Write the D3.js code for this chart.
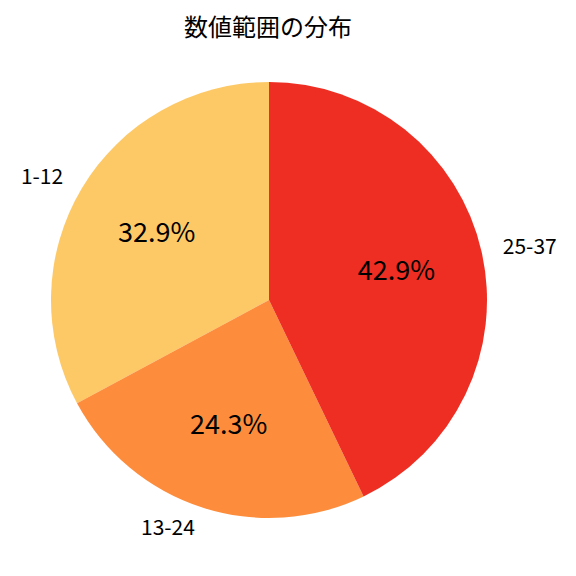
<!DOCTYPE html>
<html>
<head>
<meta charset="utf-8">
<script src="https://cdn.jsdelivr.net/npm/d3@7"></script>
<style>
  body { margin: 0; background: #fff; }
  text { font-family: "Noto Sans CJK JP", "Noto Sans", sans-serif; }
</style>
</head>
<body>
<svg id="chart" width="576" height="576"></svg>
<script>
var categories = ["1-12", "13-24", "25-37"];
var counts = [23, 17, 30];
var colors = ["#fdc967", "#fd8d3c", "#ee2e22"];
var title = "数値範囲の分布";

var cx = 269, cy = 300, radius = 218;
var svg = d3.select("#chart");

svg.append("text")
  .attr("x", 268)
  .attr("y", 36)
  .attr("text-anchor", "middle")
  .attr("font-size", 24)
  .text(title);

var total = d3.sum(counts);
// counter-clockwise from the top, like the original
var pie = d3.pie().sort(null).startAngle(0).endAngle(-2 * Math.PI);
var arcs = pie(counts);
var arc = d3.arc().innerRadius(0).outerRadius(radius);

var g = svg.append("g").attr("transform", "translate(" + cx + "," + cy + ")");

g.selectAll("path")
  .data(arcs)
  .enter().append("path")
  .attr("d", arc)
  .attr("fill", function(d, i) { return colors[i]; });

function pos(d, r) {
  var a = (d.startAngle + d.endAngle) / 2;
  return [r * Math.sin(a), -r * Math.cos(a)];
}

g.selectAll("text.label")
  .data(arcs)
  .enter().append("text")
  .attr("class", "label")
  .attr("x", function(d) { return pos(d, radius * 1.1)[0]; })
  .attr("y", function(d) { return pos(d, radius * 1.1)[1]; })
  .attr("dy", "0.35em")
  .attr("font-size", 21)
  .attr("text-anchor", function(d) { return pos(d, 1)[0] > 0 ? "start" : "end"; })
  .text(function(d, i) { return categories[i]; });

g.selectAll("text.pct")
  .data(arcs)
  .enter().append("text")
  .attr("class", "pct")
  .attr("x", function(d) { return pos(d, radius * 0.6)[0]; })
  .attr("y", function(d) { return pos(d, radius * 0.6)[1]; })
  .attr("dy", "0.35em")
  .attr("font-size", 27)
  .attr("text-anchor", "middle")
  .text(function(d) { return (d.value / total * 100).toFixed(1) + "%"; });
</script>
</body>
</html>
